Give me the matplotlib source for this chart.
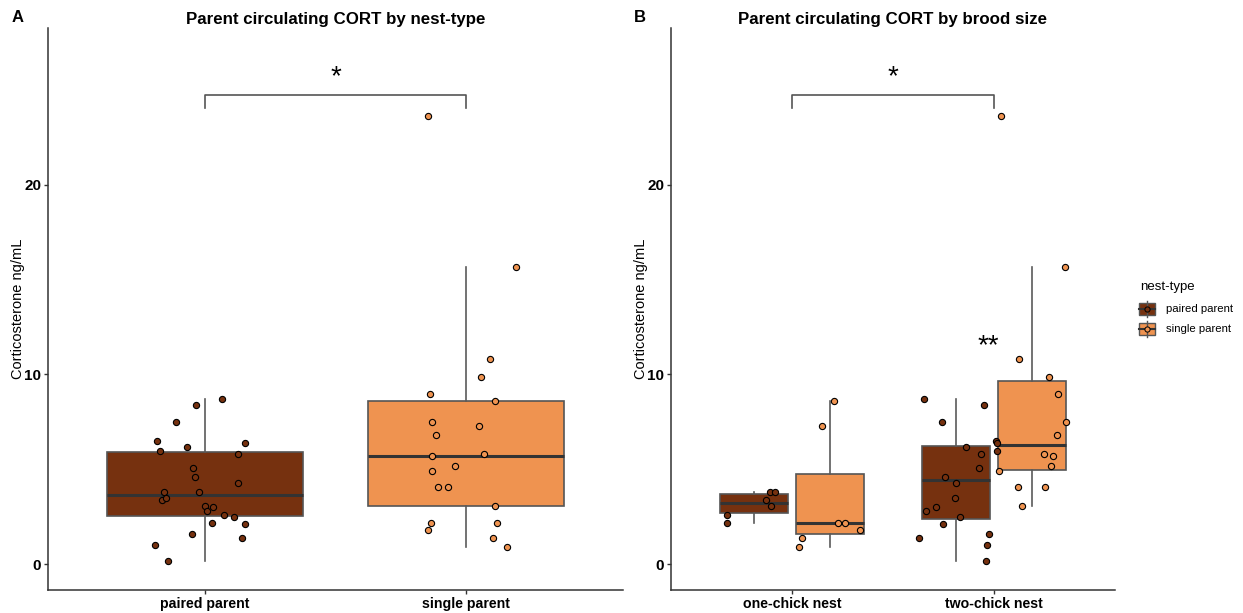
import numpy as np
import matplotlib.pyplot as plt

plt.rcParams['font.family'] = ['Liberation Sans', 'DejaVu Sans']

# corticosterone (ng/mL) by nest-type and brood size
paired_one = [3.78, 3.78, 3.38, 3.08, 2.59, 2.18]
paired_two = [8.69, 8.39, 7.48, 6.49, 6.39, 5.98, 6.19, 5.79, 5.08, 4.58,
              4.29, 3.48, 2.99, 2.78, 2.49, 2.09, 1.39, 1.58, 0.99, 0.17]
single_one = [8.59, 7.28, 2.18, 2.18, 1.78, 1.39, 0.90]
single_two = [23.64, 15.69, 10.80, 9.88, 8.99, 7.48, 6.79, 5.79, 5.68, 5.19,
              4.89, 4.08, 4.08, 3.08]

# jitter offsets (category units) used in panel A
jit_a_paired_one = [-0.158, -0.023, -0.163, 0.0, 0.074, 0.027]
jit_a_paired_two = [0.066, -0.033, -0.112, -0.182, 0.154, -0.173, -0.069, 0.127, -0.046, -0.039,
                    0.127, -0.149, 0.031, 0.010, 0.113, 0.153, 0.144, -0.048, -0.191, -0.140]
jit_a_single_one = [0.110, 0.048, -0.136, 0.117, -0.148, 0.102, 0.156]
jit_a_single_two = [-0.145, 0.190, 0.090, 0.055, -0.137, -0.130, -0.115, 0.069, -0.129, -0.043,
                    -0.130, -0.107, -0.069, 0.110]

# jitter offsets used in panel B
jit_b_paired_one = [0.078, 0.103, 0.060, 0.082, -0.136, -0.136]
jit_b_paired_two = [-0.157, 0.138, -0.071, 0.198, 0.201, 0.201, 0.050, 0.124, 0.114, -0.056,
                    0.002, -0.003, -0.100, -0.151, 0.018, -0.063, -0.182, 0.163, 0.153, 0.146]
jit_b_single_one = [0.018, -0.038, 0.038, 0.075, 0.151, -0.138, -0.151]
jit_b_single_two = [-0.150, 0.166, -0.063, 0.086, 0.128, 0.168, 0.126, 0.063, 0.106, 0.096,
                    -0.161, -0.068, 0.066, -0.048]

nest_types = ['paired parent', 'single parent']
brood_sizes = ['one-chick nest', 'two-chick nest']
col_paired = '#76310F'
col_single = '#EF9350'
axcol = '#333333'


def draw_box(ax, vals, pos, width, color):
    ax.boxplot([vals], positions=[pos], widths=width, whis=1.5, showfliers=False,
               showcaps=False, patch_artist=True, manage_ticks=False,
               boxprops=dict(facecolor=color, edgecolor='#555555', linewidth=1.2),
               whiskerprops=dict(color='#5a5a5a', linewidth=1.2),
               medianprops=dict(color='#333333', linewidth=2.2), zorder=2)


def draw_pts(ax, vals, jit, pos, color):
    ax.scatter(pos + np.array(jit), vals, s=20, facecolor=color,
               edgecolor='black', linewidth=0.8, zorder=3)


def style(ax, cats):
    ax.set_ylim(-1.37, 28.28)
    ax.set_xlim(0.4, 2.6)
    ax.set_yticks([0, 10, 20])
    ax.set_xticks([1, 2])
    ax.set_xticklabels(cats, fontweight='bold', fontsize=10.2)
    for t in ax.get_yticklabels():
        t.set_fontweight('bold')
        t.set_fontsize(11)
    for s in ['top', 'right']:
        ax.spines[s].set_visible(False)
    for s in ['left', 'bottom']:
        ax.spines[s].set_color(axcol)
        ax.spines[s].set_linewidth(1.1)
    ax.tick_params(length=3, width=1, color=axcol, labelcolor='black', pad=2)
    ax.set_ylabel('Corticosterone ng/mL', fontsize=10.5, labelpad=-1)


def bracket(ax, x1, x2, y_top, y_bot, label):
    ax.plot([x1, x1, x2, x2], [y_bot, y_top, y_top, y_bot], color='#555555',
            linewidth=1.2, zorder=4)
    ax.text((x1 + x2) / 2, y_top + 0.95, label, ha='center', va='center', fontsize=20)


fig = plt.figure(figsize=(12.43, 6.13), dpi=100)
ax1 = fig.add_axes([48 / 1243, 23 / 613, 575 / 1243, 562 / 613])
ax2 = fig.add_axes([671 / 1243, 23 / 613, 444 / 1243, 562 / 613])

# panel A: by nest-type
paired = paired_one + paired_two
single = single_one + single_two
draw_box(ax1, paired, 1, 0.75, col_paired)
draw_box(ax1, single, 2, 0.75, col_single)
draw_pts(ax1, paired, jit_a_paired_one + jit_a_paired_two, 1, col_paired)
draw_pts(ax1, single, jit_a_single_one + jit_a_single_two, 2, col_single)
style(ax1, nest_types)
ax1.set_title('Parent circulating CORT by nest-type', fontweight='bold', fontsize=12.2, pad=3)
bracket(ax1, 1, 2, 24.75, 24.05, '*')

# panel B: by brood size, dodged by nest-type
dw = 0.1875
bw = 0.3375
draw_box(ax2, paired_one, 1 - dw, bw, col_paired)
draw_box(ax2, single_one, 1 + dw, bw, col_single)
draw_box(ax2, paired_two, 2 - dw, bw, col_paired)
draw_box(ax2, single_two, 2 + dw, bw, col_single)
draw_pts(ax2, paired_one, jit_b_paired_one, 1 - dw, col_paired)
draw_pts(ax2, single_one, jit_b_single_one, 1 + dw, col_single)
draw_pts(ax2, paired_two, jit_b_paired_two, 2 - dw, col_paired)
draw_pts(ax2, single_two, jit_b_single_two, 2 + dw, col_single)
style(ax2, brood_sizes)
ax2.set_title('Parent circulating CORT by brood size', fontweight='bold', fontsize=12.2, pad=3)
bracket(ax2, 1, 2, 24.75, 24.05, '*')
ax2.text(1.97, 11.5, '**', ha='center', va='center', fontsize=20)

# overlay in pixel coordinates for panel tags and legend
ov = fig.add_axes([0, 0, 1, 1], zorder=-1)
ov.set_xlim(0, 1243)
ov.set_ylim(613, 0)
ov.axis('off')
ov.text(12, 17, 'A', fontweight='bold', fontsize=12, va='center', ha='left')
ov.text(634, 17, 'B', fontweight='bold', fontsize=12, va='center', ha='left')

ov.text(1140, 287, 'nest-type', fontsize=9.5, va='center', ha='left')
for yc, col, lab in [(309, col_paired, 'paired parent'), (329, col_single, 'single parent')]:
    ov.plot([1147, 1147], [yc - 8, yc + 8], color='#555555', linewidth=1)
    ov.add_patch(plt.Rectangle((1139, yc - 6), 16, 12, facecolor=col,
                               edgecolor='#555555', linewidth=1))
    ov.plot([1139, 1155], [yc, yc], color='#333333', linewidth=1.5)
    ov.scatter([1147], [yc], s=14, facecolor=col, edgecolor='black', linewidth=0.7, zorder=3)
    ov.text(1166, yc, lab, fontsize=8.2, va='center', ha='left')

fig.savefig('out.png', dpi=100)
